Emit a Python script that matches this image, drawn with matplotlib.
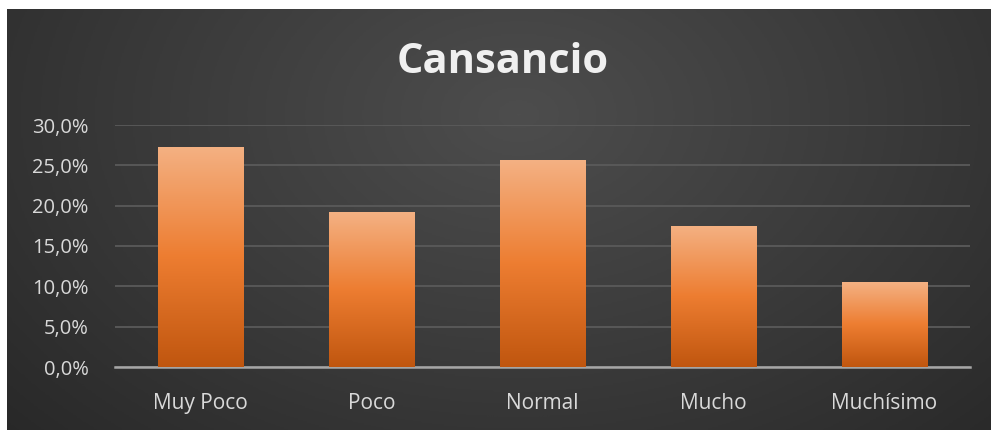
import numpy as np
import matplotlib
matplotlib.use("Agg")
import matplotlib.pyplot as plt
from matplotlib.colors import LinearSegmentedColormap
from matplotlib.ticker import FuncFormatter

categories = ["Muy Poco", "Poco", "Normal", "Mucho", "Muchísimo"]
values = [27.3, 19.2, 25.6, 17.5, 10.5]
yticks = [0, 5, 10, 15, 20, 25, 30]
title = "Cansancio"

W, H = 991, 430
fig = plt.figure(figsize=(W / 100, H / 100), dpi=100)
fig.patch.set_facecolor("white")

# dark radial background (white strip on top and left like the screenshot)
bg = fig.add_axes([7 / W, 0, 1 - 7 / W, 1 - 9 / H])
bg.set_axis_off()
yy, xx = np.mgrid[0:1:300j, 0:1:700j]
r = np.sqrt(((xx - 0.52) / 0.75) ** 2 + ((yy - 0.25) / 1.2) ** 2)
shade = np.clip(r, 0, 1)
bg_cmap = LinearSegmentedColormap.from_list("bg", ["#4d4d4d", "#3a3a3a", "#262626"])
bg.imshow(shade, cmap=bg_cmap, aspect="auto", extent=[0, 1, 1, 0], vmin=0, vmax=1)
bg.set_xlim(0, 1)
bg.set_ylim(1, 0)

ax = fig.add_axes([115 / W, 63 / H, 855 / W, 242 / H])
ax.patch.set_alpha(0)
x = np.arange(len(categories))
bars = ax.bar(x, values, width=0.5, color="#ed7d31", zorder=2)

bar_cmap = LinearSegmentedColormap.from_list("bar", ["#c0560f", "#ed7d31", "#f4b183"])
grad = np.linspace(0, 1, 256).reshape(-1, 1)
for b in bars:
    x0, y0 = b.get_x(), b.get_y()
    w, h = b.get_width(), b.get_height()
    im = ax.imshow(grad, cmap=bar_cmap, aspect="auto", origin="lower",
                   extent=[x0, x0 + w, y0, y0 + h], zorder=3)
    im.set_clip_path(b)

ax.set_xlim(-0.5, len(categories) - 0.5)
ax.set_ylim(0, 30)
ax.set_yticks(yticks)
ax.yaxis.set_major_formatter(FuncFormatter(lambda v, p: f"{v:.1f}%".replace(".", ",")))
ax.set_xticks(x)
ax.set_xticklabels(categories)
ax.grid(axis="y", color="#5a5a5a", linewidth=1.3, zorder=0)
for s in ["top", "right", "left"]:
    ax.spines[s].set_visible(False)
ax.spines["bottom"].set_color("#a6a6a6")
ax.spines["bottom"].set_linewidth(1.8)
ax.tick_params(length=0, colors="#d9d9d9")
ax.tick_params(axis="y", pad=19, labelsize=14.5)
ax.tick_params(axis="x", pad=19, labelsize=15)
for lab in ax.get_xticklabels() + ax.get_yticklabels():
    lab.set_fontfamily("Open Sans")

fig.text(503 / W, 1 - 73 / H, title, ha="center", va="baseline", color="#f0f0f0",
         fontsize=30, fontweight="bold", fontfamily="Open Sans")

fig.savefig("out.png", dpi=100)
